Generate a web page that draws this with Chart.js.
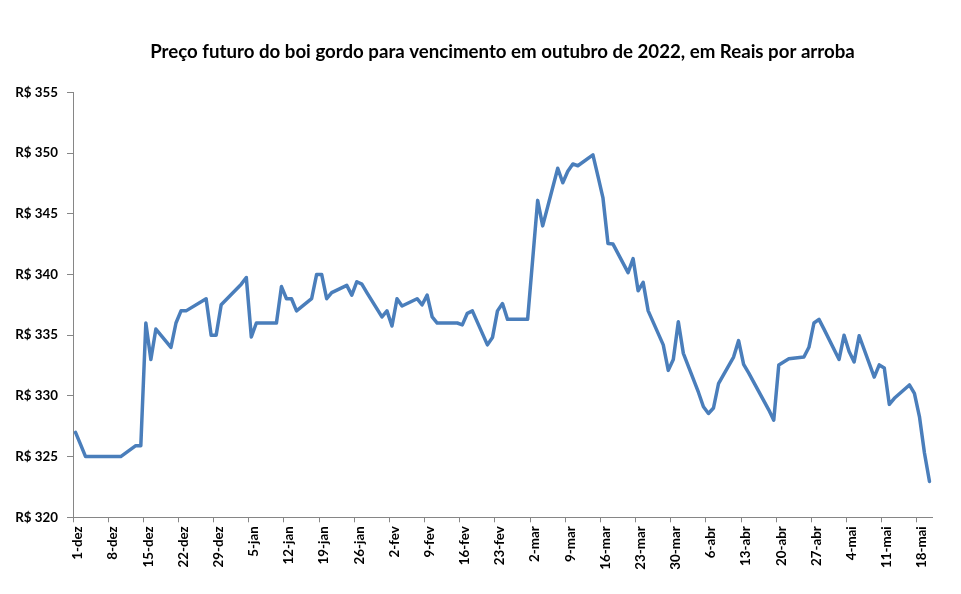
<!DOCTYPE html>
<html>
<head>
<meta charset="utf-8">
<script src="https://cdn.jsdelivr.net/npm/chart.js@4/dist/chart.umd.min.js"></script>
<style>
html,body{margin:0;padding:0;background:#fff;}
#wrap{width:961px;height:594px;}
</style>
</head>
<body>
<div id="wrap"><canvas id="c" width="961" height="594"></canvas></div>
<script>
const titleText = 'Preço futuro do boi gordo para vencimento em outubro de 2022, em Reais por arroba';
const startDate = '2021-12-01';
const endDate = '2022-05-20';

const tradeDates = [
  '2021-12-01','2021-12-02','2021-12-03','2021-12-06','2021-12-07','2021-12-08','2021-12-09','2021-12-10',
  '2021-12-13','2021-12-14','2021-12-15','2021-12-16','2021-12-17','2021-12-20','2021-12-21','2021-12-22',
  '2021-12-23','2021-12-27','2021-12-28','2021-12-29','2021-12-30','2022-01-03','2022-01-04','2022-01-05',
  '2022-01-06','2022-01-07','2022-01-10','2022-01-11','2022-01-12','2022-01-13','2022-01-14','2022-01-17',
  '2022-01-18','2022-01-19','2022-01-20','2022-01-21','2022-01-24','2022-01-25','2022-01-26','2022-01-27',
  '2022-01-28','2022-01-31','2022-02-01','2022-02-02','2022-02-03','2022-02-04','2022-02-07','2022-02-08',
  '2022-02-09','2022-02-10','2022-02-11','2022-02-14','2022-02-15','2022-02-16','2022-02-17','2022-02-18',
  '2022-02-21','2022-02-22','2022-02-23','2022-02-24','2022-02-25','2022-02-28','2022-03-01','2022-03-03',
  '2022-03-04','2022-03-07','2022-03-08','2022-03-09','2022-03-10','2022-03-11','2022-03-14','2022-03-15',
  '2022-03-16','2022-03-17','2022-03-18','2022-03-21','2022-03-22','2022-03-23','2022-03-24','2022-03-25',
  '2022-03-28','2022-03-29','2022-03-30','2022-03-31','2022-04-01','2022-04-04','2022-04-05','2022-04-06',
  '2022-04-07','2022-04-08','2022-04-11','2022-04-12','2022-04-13','2022-04-14','2022-04-18','2022-04-19',
  '2022-04-20','2022-04-22','2022-04-25','2022-04-26','2022-04-27','2022-04-28','2022-04-29','2022-05-02',
  '2022-05-03','2022-05-04','2022-05-05','2022-05-06','2022-05-09','2022-05-10','2022-05-11','2022-05-12',
  '2022-05-13','2022-05-16','2022-05-17','2022-05-18','2022-05-19','2022-05-20'
];

const prices = [
  327, 326, 325, 325, 325, 325, 325, 325,
  325.9, 325.9, 336, 333, 335.5, 334, 336, 337,
  337, 338, 335, 335, 337.5, 339.2, 339.75, 334.85,
  336, 336, 336, 339, 338, 338, 337, 338,
  340, 340, 338, 338.5, 339.1, 338.3, 339.4, 339.2,
  338.5, 336.5, 337, 335.75, 338, 337.4, 338, 337.5,
  338.3, 336.5, 336, 336, 336, 335.85, 336.8, 337,
  334.2, 334.8, 337, 337.6, 336.3, 336.3, 336.3, 346.1,
  344, 348.75, 347.55, 348.5, 349.1, 348.95, 349.85, 348.1,
  346.3, 342.55, 342.5, 340.15, 341.3, 338.65, 339.35, 337,
  334.2, 332.1, 333, 336.1, 333.5, 330.3, 329.1, 328.55,
  329, 331, 333.2, 334.55, 332.6, 331.9, 328.85, 328,
  332.55, 333.05, 333.2, 334, 336, 336.3, 335.5, 333,
  335, 333.65, 332.8, 334.95, 331.55, 332.55, 332.3, 329.3,
  329.8, 330.9, 330.2, 328.3, 325.3, 322.95
];

const tickLabels = ['1-dez','8-dez','15-dez','22-dez','29-dez','5-jan','12-jan','19-jan','26-jan',
  '2-fev','9-fev','16-fev','23-fev','2-mar','9-mar','16-mar','23-mar','30-mar','6-abr','13-abr',
  '20-abr','27-abr','4-mai','11-mai','18-mai'];
const tickDates = ['2021-12-01','2021-12-08','2021-12-15','2021-12-22','2021-12-29','2022-01-05','2022-01-12',
  '2022-01-19','2022-01-26','2022-02-02','2022-02-09','2022-02-16','2022-02-23','2022-03-02','2022-03-09',
  '2022-03-16','2022-03-23','2022-03-30','2022-04-06','2022-04-13','2022-04-20','2022-04-27','2022-05-04',
  '2022-05-11','2022-05-18'];

const yTickValues = [320, 325, 330, 335, 340, 345, 350, 355];

const dayOf = s => Math.round((Date.parse(s) - Date.parse(startDate)) / 86400000);
const points = tradeDates.map((d, i) => ({ x: dayOf(d), y: prices[i] }));

const FONT = 'Lato, "Open Sans", "Liberation Sans", sans-serif';
const AXIS_GREY = '#868686';

const titleOnArea = {
  id: 'titleOnArea',
  afterLayout(chart) {
    const t = chart.titleBlock;
    if (t) {
      t.left = chart.chartArea.left;
      t.right = chart.chartArea.right;
      t.width = t.right - t.left;
    }
  }
};

new Chart(document.getElementById('c'), {
  type: 'line',
  data: {
    datasets: [{
      label: 'Preço',
      data: points,
      borderColor: '#4a7ebb',
      backgroundColor: '#4a7ebb',
      borderWidth: 3.5,
      pointRadius: 0,
      tension: 0,
      fill: false,
      borderJoinStyle: 'round',
      borderCapStyle: 'round'
    }]
  },
  options: {
    responsive: false,
    animation: false,
    devicePixelRatio: 1,
    layout: { padding: { left: 0, right: 29, top: 0, bottom: 0 } },
    plugins: {
      legend: { display: false },
      tooltip: { enabled: false },
      title: {
        display: true,
        text: titleText,
        color: '#000',
        font: { family: FONT, size: 18.67, weight: 'bold' },
        padding: { top: 40.8, bottom: 29.1 }
      }
    },
    scales: {
      x: {
        type: 'linear',
        min: dayOf(startDate) - 0.5,
        max: dayOf(endDate) + 0.5,
        afterBuildTicks: sc => { sc.ticks = tickDates.map(d => ({ value: dayOf(d) - 0.5 })); },
        afterFit: sc => { sc.height = 76.7; },
        ticks: {
          autoSkip: false,
          minRotation: 90,
          maxRotation: 90,
          padding: 4,
          labelOffset: 5,
          color: '#000',
          font: { family: FONT, size: 13.33, weight: 'bold' },
          callback: (v, i) => tickLabels[i]
        },
        grid: { drawOnChartArea: false, drawTicks: true, tickLength: 5, color: AXIS_GREY },
        border: { color: AXIS_GREY, width: 1 }
      },
      y: {
        min: yTickValues[0],
        max: yTickValues[yTickValues.length - 1],
        afterBuildTicks: sc => { sc.ticks = yTickValues.map(v => ({ value: v })); },
        afterFit: sc => { sc.width = 73; },
        ticks: {
          padding: 9,
          color: '#000',
          font: { family: FONT, size: 13.33, weight: 'bold' },
          callback: v => 'R$ ' + v
        },
        grid: { drawOnChartArea: false, drawTicks: true, tickLength: 6, color: AXIS_GREY },
        border: { color: AXIS_GREY, width: 1 }
      }
    }
  },
  plugins: [titleOnArea]
});
</script>
</body>
</html>
